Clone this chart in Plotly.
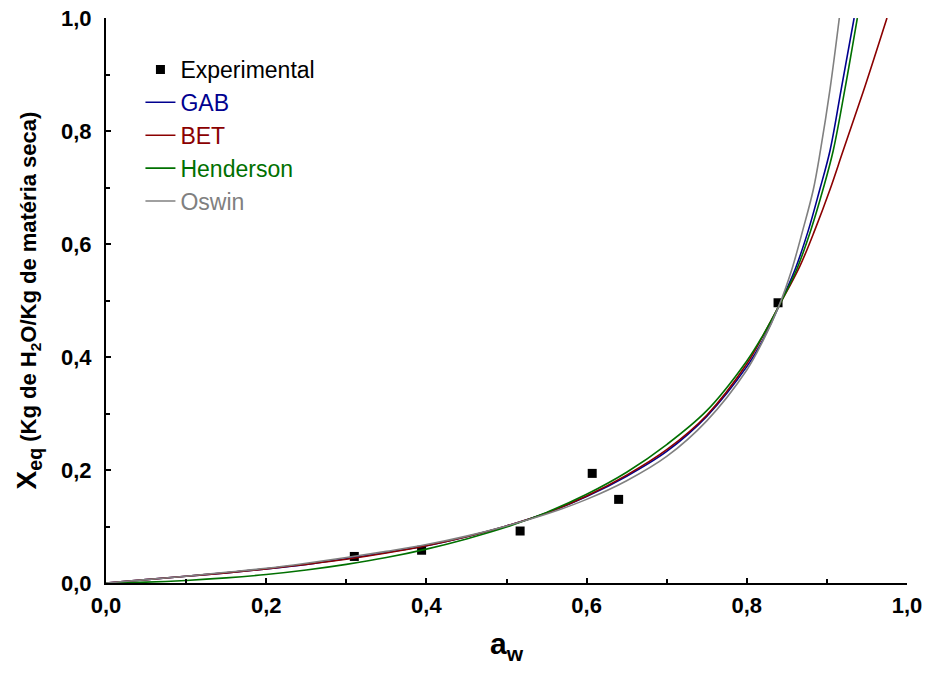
import plotly.graph_objects as go

# Experimental data
aw_exp = [0.310, 0.394, 0.517, 0.607, 0.640, 0.839]
x_exp = [0.047, 0.058, 0.092, 0.194, 0.148, 0.496]

# Model curves
aw_gab = [0, 0.05, 0.1, 0.15, 0.2, 0.25, 0.3, 0.35, 0.4, 0.45, 0.5, 0.55, 0.6, 0.65, 0.7, 0.75, 0.8, 0.82, 0.84, 0.86, 0.877, 0.891, 0.904, 0.918, 0.934]
x_gab = [0, 0.006, 0.012, 0.018, 0.025, 0.033, 0.043, 0.054, 0.066, 0.082, 0.101, 0.124, 0.153, 0.189, 0.233, 0.295, 0.383, 0.43, 0.49, 0.554, 0.625, 0.696, 0.766, 0.875, 1.0]

aw_bet = [0, 0.05, 0.1, 0.15, 0.2, 0.25, 0.3, 0.35, 0.4, 0.45, 0.5, 0.55, 0.6, 0.65, 0.7, 0.75, 0.8, 0.82, 0.84, 0.866, 0.885, 0.904, 0.92, 0.945, 0.975]
x_bet = [0, 0.006, 0.012, 0.018, 0.025, 0.033, 0.042, 0.053, 0.066, 0.082, 0.101, 0.124, 0.154, 0.191, 0.236, 0.297, 0.388, 0.437, 0.49, 0.56, 0.625, 0.697, 0.764, 0.868, 1.0]

aw_hen = [0, 0.05, 0.1, 0.15, 0.2, 0.25, 0.3, 0.35, 0.4, 0.45, 0.5, 0.55, 0.6, 0.65, 0.7, 0.75, 0.8, 0.82, 0.84, 0.862, 0.88, 0.895, 0.908, 0.9226, 0.938]
x_hen = [0, 0.0015, 0.0045, 0.009, 0.015, 0.023, 0.033, 0.045, 0.060, 0.078, 0.099, 0.125, 0.157, 0.196, 0.245, 0.305, 0.393, 0.438, 0.49, 0.554, 0.625, 0.696, 0.766, 0.875, 1.0]

aw_osw = [0, 0.05, 0.1, 0.15, 0.2, 0.25, 0.3, 0.35, 0.4, 0.45, 0.5, 0.55, 0.6, 0.65, 0.7, 0.75, 0.8, 0.82, 0.84, 0.856, 0.87, 0.883, 0.892, 0.904, 0.9155]
x_osw = [0, 0.006, 0.012, 0.019, 0.026, 0.035, 0.045, 0.056, 0.068, 0.083, 0.101, 0.122, 0.148, 0.181, 0.224, 0.287, 0.377, 0.428, 0.49, 0.554, 0.625, 0.696, 0.766, 0.875, 1.0]

tick_vals = [0, 0.2, 0.4, 0.6, 0.8, 1.0]
tick_text = ["<b>0,0</b>", "<b>0,2</b>", "<b>0,4</b>", "<b>0,6</b>", "<b>0,8</b>", "<b>1,0</b>"]

C_GAB = "#00008f"
C_BET = "#8b0000"
C_HEN = "#007000"
C_OSW = "#808080"
FONT = "Liberation Sans, Arial, sans-serif"

fig = go.Figure()
fig.add_trace(go.Scatter(x=aw_exp, y=x_exp, mode="markers", name="Experimental",
                         marker=dict(symbol="square", size=9, color="black"),
                         legendgroup="a"))
fig.add_trace(go.Scatter(x=aw_gab, y=x_gab, mode="lines", line=dict(color=C_GAB, width=1.6, shape="spline"),
                         name=f'<span style="color:{C_GAB}">GAB</span>', legendgroup="b"))
fig.add_trace(go.Scatter(x=aw_bet, y=x_bet, mode="lines", line=dict(color=C_BET, width=1.6, shape="spline"),
                         name=f'<span style="color:{C_BET}">BET</span>', legendgroup="c"))
fig.add_trace(go.Scatter(x=aw_hen, y=x_hen, mode="lines", line=dict(color=C_HEN, width=1.6, shape="spline"),
                         name=f'<span style="color:{C_HEN}">Henderson</span>', legendgroup="d"))
fig.add_trace(go.Scatter(x=aw_osw, y=x_osw, mode="lines", line=dict(color=C_OSW, width=1.6, shape="spline"),
                         name=f'<span style="color:{C_OSW}">Oswin</span>', legendgroup="e"))

axis_common = dict(
    showline=True, linecolor="black", linewidth=2, mirror=False,
    showgrid=False, zeroline=False,
    ticks="inside", ticklen=5, tickwidth=1.5, tickcolor="black",
    tickvals=tick_vals, ticktext=tick_text,
    tickfont=dict(family=FONT, size=22, color="black"),
    minor=dict(ticks="inside", ticklen=4, tickwidth=1.5, tickcolor="black", dtick=0.1),
)

fig.update_xaxes(range=[0, 1], **axis_common, ticklabelstandoff=2,
                 title=dict(text="<b>a<sub>w</sub></b>",
                            font=dict(family=FONT, size=30, color="black"),
                            standoff=16))
fig.update_yaxes(range=[0, 1], **axis_common, ticklabelstandoff=8,
                 title=dict(text='<b>X<sub>eq</sub><span style="font-size:22px"> (Kg de H<sub>2</sub>O/Kg de matéria seca)</span></b>',
                            font=dict(family=FONT, size=28, color="black"),
                            standoff=16))

fig.update_layout(
    width=929, height=676,
    margin=dict(l=106, r=22, t=18, b=93, autoexpand=False),
    paper_bgcolor="white", plot_bgcolor="white",
    showlegend=True,
    legend=dict(x=0.043, y=0.947, xanchor="left", yanchor="top",
                font=dict(family=FONT, size=23, color="black"),
                bgcolor="rgba(0,0,0,0)", tracegroupgap=0, itemwidth=30),
)

fig.write_html("out.html")
